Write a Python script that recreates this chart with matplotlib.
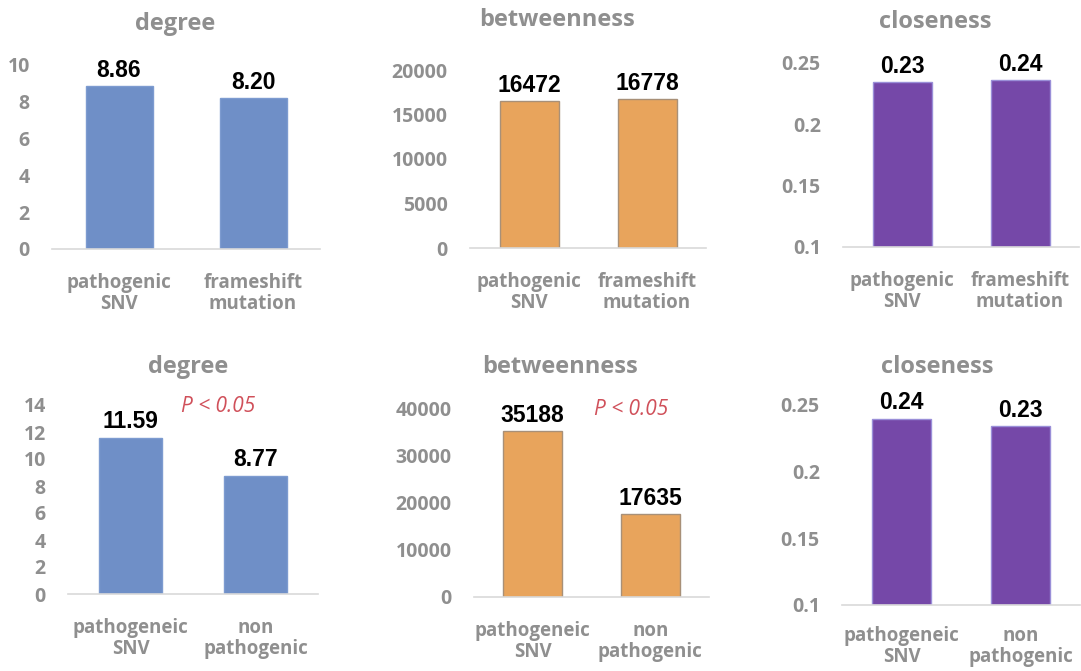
import matplotlib.pyplot as plt
import numpy as np

# Daten: Zentralitaetsmasse je Variantengruppe
top_groups = ["pathogenic\nSNV", "frameshift\nmutation"]
bottom_groups = ["pathogeneic\nSNV", "non\npathogenic"]

degree_top = [8.86, 8.20]
betweenness_top = [16472, 16778]
closeness_top = [0.2344, 0.2358]

degree_bottom = [11.59, 8.77]
betweenness_bottom = [35188, 17635]
closeness_bottom = [0.2398, 0.2344]

degree_ticks_top = [0, 2, 4, 6, 8, 10]
degree_ticks_bottom = [0, 2, 4, 6, 8, 10, 12, 14]
betweenness_ticks_top = [0, 5000, 10000, 15000, 20000]
betweenness_ticks_bottom = [0, 10000, 20000, 30000, 40000]
closeness_ticks = [0.1, 0.15, 0.2, 0.25]
closeness_tick_labels = ["0.1", "0.15", "0.2", "0.25"]

p_label = "P < 0.05"

W, H = 1081, 671
BLUE = "#6f8fc7"
ORANGE = "#e8a45c"
PURPLE = "#7548a8"
GRAY = "#8f8f8f"
SANS = ["Open Sans", "DejaVu Sans"]
ARIAL = ["Liberation Sans", "DejaVu Sans"]

fig = plt.figure(figsize=(W / 100, H / 100), dpi=100)
fig.patch.set_facecolor("white")


def px_axes(left, right, bottom, top):
    # Rechteck in Pixeln (Ursprung oben links) -> Figurenkoordinaten
    return fig.add_axes([left / W, 1 - bottom / H, (right - left) / W, (bottom - top) / H])


def panel(rect, labels, values, color, edge, ylim, ticks, tick_labels, fmt, title, title_xy, xpad=17):
    ax = px_axes(*rect)
    x = np.arange(len(values))
    bars = ax.bar(x, np.array(values) - ylim[0], bottom=ylim[0], width=0.5,
                  color=color, edgecolor=edge, linewidth=1.0)
    ax.set_xlim(-0.5, 1.5)
    ax.set_ylim(*ylim)
    ax.set_yticks(ticks)
    ax.set_yticklabels(tick_labels if tick_labels else [str(t) for t in ticks])
    ax.set_xticks(x)
    ax.set_xticklabels(labels, linespacing=1.1)
    for side in ["top", "left", "right"]:
        ax.spines[side].set_visible(False)
    ax.spines["bottom"].set_color("#d9d9d9")
    ax.spines["bottom"].set_linewidth(1.2)
    ax.tick_params(axis="y", length=0, pad=16, labelcolor=GRAY, labelsize=14)
    ax.tick_params(axis="x", length=0, pad=xpad, labelcolor=GRAY, labelsize=13.5)
    for lab in ax.get_yticklabels() + ax.get_xticklabels():
        lab.set_family(SANS)
        lab.set_weight("bold")
    for b, v in zip(bars, values):
        ax.annotate(fmt.format(v), (b.get_x() + b.get_width() / 2, v),
                    xytext=(0, 3), textcoords="offset points", ha="center", va="bottom",
                    fontsize=16.5, fontweight="bold", family=ARIAL, color="black")
    fig.text(title_xy[0] / W, 1 - title_xy[1] / H, title, ha="center", va="center",
             fontsize=17, fontweight="bold", color=GRAY, family=SANS)
    return ax


# obere Reihe
panel((52, 320, 249, 65), top_groups, degree_top, BLUE, "#7d9bd0",
      (0, 10), degree_ticks_top, None, "{:.2f}", "degree", (175, 24))
panel((470, 706, 248, 70), top_groups, betweenness_top, ORANGE, "#a89078",
      (0, 20000), betweenness_ticks_top, None, "{:d}", "betweenness", (557, 20))
panel((843, 1079, 247, 63), top_groups, closeness_top, PURPLE, "#9a8fd8",
      (0.1, 0.25), closeness_ticks, closeness_tick_labels, "{:.2f}", "closeness", (935, 22))

# untere Reihe
ax4 = panel((68, 318, 594, 405), bottom_groups, degree_bottom, BLUE, "#7d9bd0",
            (0, 14), degree_ticks_bottom, None, "{:.2f}", "degree", (188, 367))
ax5 = panel((474, 709, 597, 408), bottom_groups, betweenness_bottom, ORANGE, "#a89078",
            (0, 40000), betweenness_ticks_bottom, None, "{:d}", "betweenness", (560, 367))
panel((842, 1080, 605, 405), bottom_groups, closeness_bottom, PURPLE, "#9a8fd8",
      (0.1, 0.25), closeness_ticks, closeness_tick_labels, "{:.2f}", "closeness", (937, 367),
      xpad=15)

for ax, xf in [(ax4, 0.60), (ax5, 0.67)]:
    ax.text(xf, 0.99, p_label, transform=ax.transAxes, ha="center", va="center",
            fontsize=15, style="italic", color="#d0505a", family=SANS)

fig.savefig("out.png", dpi=100)
